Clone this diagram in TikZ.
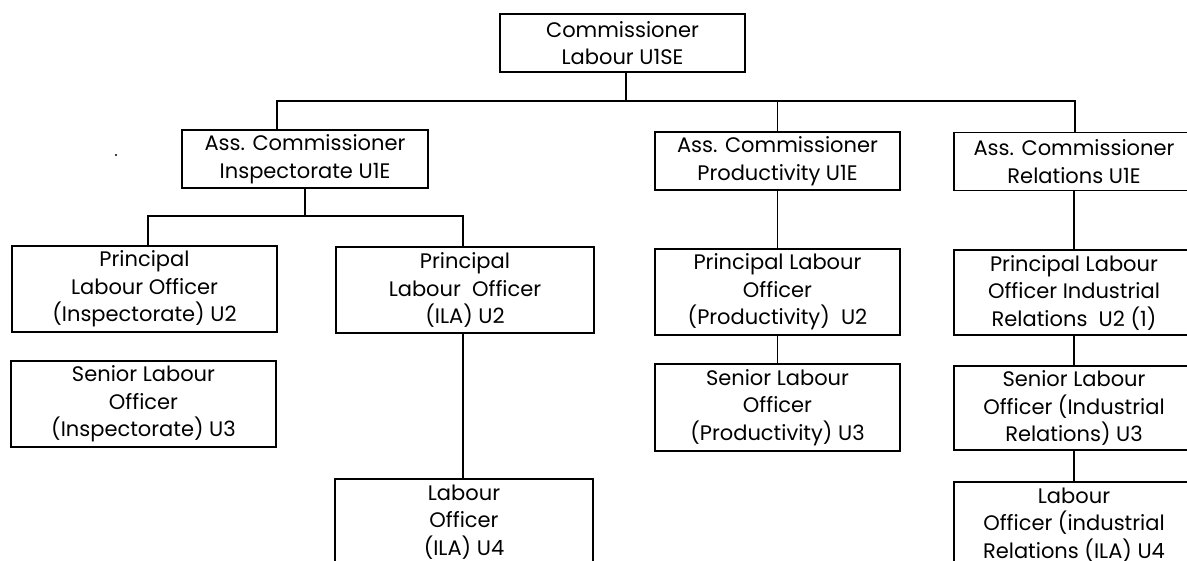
\documentclass[tikz,border=0pt]{standalone}
\usepackage{fontspec}
\setmainfont{Poppins}
\newcommand\orgfont{\fontsize{21}{27.5}\selectfont}
\begin{document}
\begin{tikzpicture}[x=1pt, y=-1pt,
  post/.style={draw, line width=1.3pt, inner sep=0pt, align=center, font=\orgfont},
  two/.style={post, minimum height=58pt},
  three/.style={post, minimum height=86pt},
  link/.style={line width=1.1pt}]
\useasboundingbox (0,0) rectangle (1187,561);
\clip (0,0) rectangle (1187,561);

% top level
\node[two, minimum width=245pt] (comm) at (622.5,43) {Commissioner\\Labour U1SE};

% assistant commissioners
\node[two, minimum width=246pt] (insp) at (305,159) {Ass. Commissioner\\Inspectorate U1E};
\node[two, minimum width=245pt] (prod) at (777.5,161) {Ass. Commissioner\\Productivity U1E};
\node[two, minimum width=240pt] (rel) at (1074,161.5) {Ass. Commissioner\\Relations U1E};

% inspectorate branch
\node[three, minimum width=265pt] (pins) at (144.5,289) {Principal\\Labour Officer\\(Inspectorate) U2};
\node[three, minimum width=265pt] (sins) at (143.5,404) {Senior Labour\\Officer\\(Inspectorate) U3};
\node[three, minimum width=258pt] (pila) at (465,290) {Principal\\Labour\ \ Officer\\(ILA) U2};
\node[three, minimum width=258pt] (lila) at (464,522) {Labour\\Officer\\(ILA) U4};

% productivity branch
\node[three, minimum width=245pt] (pprod) at (777.5,292) {Principal Labour\\Officer\\(Productivity)\ \ U2};
\node[three, minimum width=245pt, minimum height=87pt] (sprod) at (777.5,407.5) {Senior Labour\\Officer\\(Productivity) U3};

% relations branch
\node[three, minimum width=240pt, minimum height=85pt] (prel) at (1074,292.5) {Principal Labour\\Officer Industrial\\Relations\ \ U2 (1)};
\node[three, minimum width=240pt, minimum height=84pt] (srel) at (1074,408) {Senior Labour\\Officer (Industrial\\Relations) U3};
\node[three, minimum width=240pt] (lrel) at (1074,525) {Labour\\Officer (industrial\\Relations (ILA) U4};

% junction points
\coordinate (top) at (626,101);
\coordinate (busL) at (277,101);
\coordinate (busR) at (1075,101);
\coordinate (sub) at (305,216);
\coordinate (subL) at (148,216);
\coordinate (subR) at (463,216);

% connectors
\draw[link] (top |- comm.south) -- (top);
\draw[link] (busL |- insp.north) -- (busL) -- (busR) -- (busR |- rel.north);
\draw[link] (prod.north) -- (prod.north |- busL);
\draw[link] (insp.south) -- (sub);
\draw[link] (subL |- pins.north) -- (subL) -- (subR) -- (subR |- pila.north);
\draw[link] (pila.south -| subR) -- (lila.north -| subR);
\draw[link] (prod.south) -- (pprod.north);
\draw[link] (pprod.south) -- (sprod.north);
\draw[link] (rel.south) -- (prel.north);
\draw[link] (prel.south) -- (srel.north);
\draw[link] (srel.south) -- (lrel.north);

% speck beside the inspectorate box
\fill (116,155) circle (1.2pt);
\end{tikzpicture}
\end{document}
